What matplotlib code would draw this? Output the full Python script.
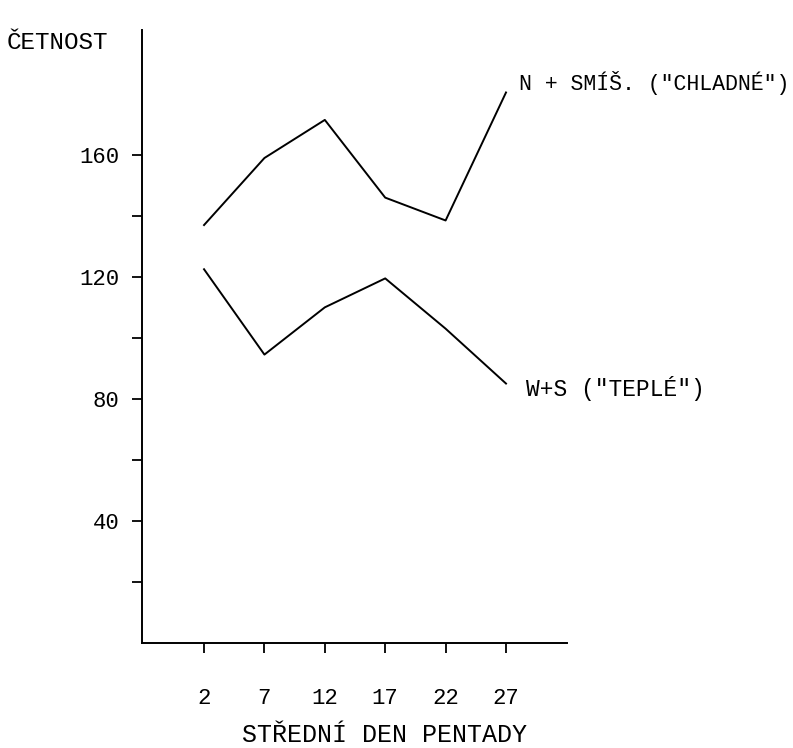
import matplotlib
matplotlib.use("Agg")
import matplotlib.pyplot as plt
from matplotlib.ticker import FixedLocator

# mid day of the pentad
days = [2, 7, 12, 17, 22, 27]

# N + mixed ("cold") and W + S ("warm") counts
cold = [137, 159, 171.5, 146, 138.5, 180.5]
warm = [122.5, 94.5, 110, 119.5, 103, 85]

y_major = [40, 80, 120, 160]
y_minor = [20, 60, 100, 140]

cold_label = 'N + SMÍŠ. ("CHLADNÉ")'
warm_label = 'W+S ("TEPLÉ")'

plt.rcParams["font.family"] = ["Liberation Mono", "DejaVu Sans Mono"]

fig = plt.figure(figsize=(7.93, 7.48), dpi=100)
ax = fig.add_axes([0.1787, 0.1409, 0.5363, 0.819])

ax.plot(days, cold, color="black", lw=1.4)
ax.plot(days, warm, color="black", lw=1.4)

# labels next to the line ends
ax.annotate(cold_label, xy=(days[-1], cold[-1]), xytext=(13, 9),
            textcoords="offset pixels", fontsize=15.5, va="center", ha="left")
ax.annotate(warm_label, xy=(days[-1], warm[-1]), xytext=(20, -5),
            textcoords="offset pixels", fontsize=16.5, va="center", ha="left")

ax.set_xlim(-3.16, 32.05)
ax.set_ylim(0, 201)

ax.set_xticks(days)
ax.set_yticks(y_major)
ax.yaxis.set_minor_locator(FixedLocator(y_minor))
ax.tick_params(axis="both", which="both", direction="out", length=7,
               width=1.3, labelsize=16)
ax.tick_params(axis="y", pad=9)
ax.tick_params(axis="x", pad=26)

for s in ["top", "right"]:
    ax.spines[s].set_visible(False)
for s in ["left", "bottom"]:
    ax.spines[s].set_linewidth(1.4)

ax.set_xlabel("STŘEDNÍ DEN PENTADY", fontsize=18, va="top", ha="center")
ax.xaxis.set_label_coords(0.572, -0.132)
ax.set_ylabel("ČETNOST", fontsize=17.5, rotation=0, ha="left", va="center")
ax.yaxis.set_label_coords(-0.3167, 0.98)

fig.savefig("out.png", dpi=100)
